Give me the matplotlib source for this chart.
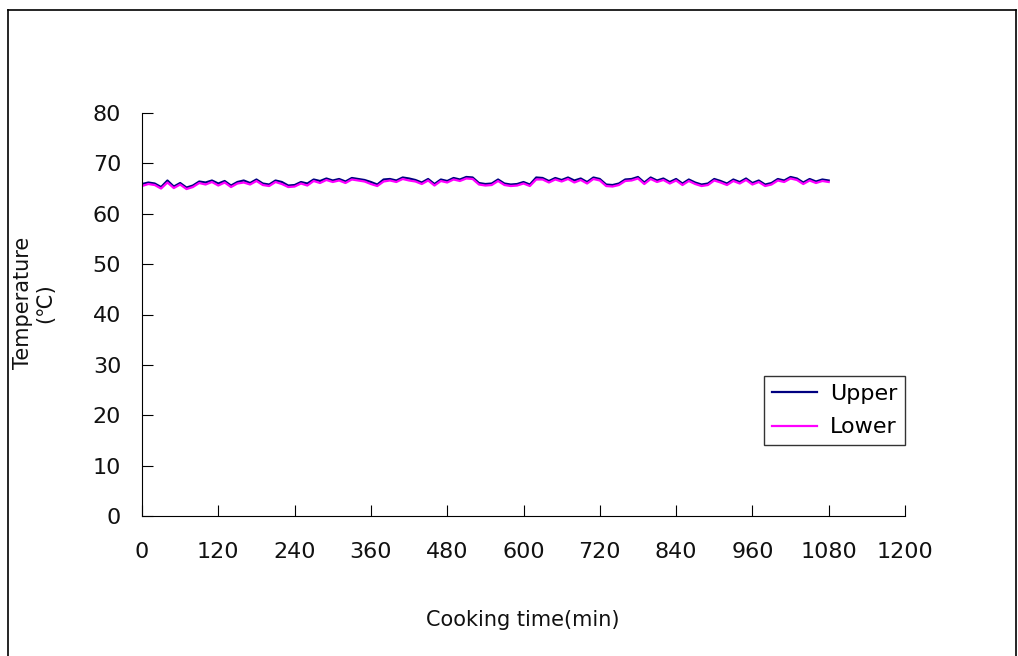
import numpy as np
import matplotlib.pyplot as plt
from matplotlib.lines import Line2D

plt.rcParams['font.family'] = ['DejaVu Sans', 'Noto Sans CJK KR']

# cooking time (min), sampled every 10 min
time = np.arange(0, 1081, 10)

upper = [65.9, 66.2, 66.0, 65.3, 66.6, 65.4, 66.1, 65.2, 65.6, 66.4,
         66.2, 66.6, 66.0, 66.5, 65.6, 66.3, 66.6, 66.1, 66.8, 66.0,
         65.8, 66.6, 66.3, 65.6, 65.7, 66.3, 66.0, 66.8, 66.5, 67.0,
         66.6, 66.9, 66.4, 67.1, 66.9, 66.7, 66.3, 65.8, 66.8, 66.9,
         66.6, 67.2, 67.0, 66.7, 66.2, 66.9, 65.9, 66.8, 66.5, 67.1,
         66.8, 67.3, 67.2, 66.1, 65.9, 66.0, 66.8, 66.0, 65.8, 65.9,
         66.3, 65.8, 67.2, 67.1, 66.5, 67.1, 66.7, 67.2, 66.6, 67.0,
         66.3, 67.2, 66.9, 65.8, 65.7, 66.0, 66.8, 66.9, 67.3, 66.2,
         67.2, 66.6, 67.0, 66.3, 66.9, 66.0, 66.8, 66.2, 65.8, 66.0,
         66.9, 66.5, 66.0, 66.8, 66.3, 67.0, 66.1, 66.6, 65.8, 66.1,
         66.9, 66.6, 67.3, 67.0, 66.2, 66.9, 66.4, 66.8, 66.6]

lower = [65.5, 65.9, 65.7, 65.0, 66.2, 65.1, 65.8, 64.9, 65.3, 66.1,
         65.8, 66.3, 65.6, 66.2, 65.3, 66.0, 66.2, 65.8, 66.5, 65.7,
         65.5, 66.3, 65.9, 65.3, 65.4, 66.0, 65.6, 66.5, 66.1, 66.7,
         66.3, 66.6, 66.1, 66.8, 66.6, 66.4, 65.9, 65.5, 66.4, 66.6,
         66.3, 66.9, 66.6, 66.4, 65.9, 66.6, 65.6, 66.5, 66.2, 66.8,
         66.5, 67.0, 66.9, 65.8, 65.6, 65.7, 66.5, 65.7, 65.5, 65.6,
         66.0, 65.5, 66.8, 66.8, 66.2, 66.8, 66.4, 66.9, 66.2, 66.7,
         66.0, 66.9, 66.6, 65.5, 65.4, 65.7, 66.5, 66.6, 67.0, 65.9,
         66.9, 66.3, 66.7, 66.0, 66.6, 65.7, 66.5, 65.9, 65.5, 65.7,
         66.6, 66.2, 65.7, 66.5, 66.0, 66.7, 65.8, 66.3, 65.5, 65.8,
         66.6, 66.3, 67.0, 66.7, 65.9, 66.6, 66.1, 66.5, 66.3]

fig = plt.figure(figsize=(10.18, 6.56), dpi=100)
ax = fig.add_axes([142/1018, 1-516/656, (905-142)/1018, (516-113)/656])

ax.plot(time, upper, color='#000080', lw=1.6, label='Upper')
ax.plot(time, lower, color='#ff00ff', lw=1.6, label='Lower')

ax.set_xlim(0, 1200)
ax.set_ylim(0, 80)
ax.set_xticks(np.arange(0, 1201, 120))
ax.set_yticks(np.arange(0, 81, 10))
ax.spines['top'].set_visible(False)
ax.spines['right'].set_visible(False)
ax.tick_params(axis='x', direction='in', length=8, pad=19, labelsize=16)
ax.tick_params(axis='y', direction='in', length=8, pad=15, labelsize=16)
for lab in ax.get_xticklabels() + ax.get_yticklabels():
    lab.set_color('#111111')

fig.text(523/1018, 1-620/656, 'Cooking time(min)', ha='center', va='center',
         fontsize=15, color='#111111')
fig.text(34/1018, 1-303/656, 'Temperature\n(\u2103)', ha='center', va='center',
         rotation=90, fontsize=15, color='#111111', linespacing=1.1,
         family=['DejaVu Sans', 'Noto Sans CJK KR'])

leg = ax.legend(loc='lower right', bbox_to_anchor=(1.0, 0.176), fontsize=16,
                frameon=True, fancybox=False, handlelength=2.0, borderpad=0.35,
                labelspacing=0.6, handletextpad=0.6, borderaxespad=0)
leg.get_frame().set_edgecolor('black')
leg.get_frame().set_linewidth(1.0)

# outer frame of the figure
for xs, ys in [([8, 8], [656, 10]), ([8, 1016], [10, 10]), ([1016, 1016], [10, 656])]:
    fig.add_artist(Line2D([x/1018 for x in xs], [1-y/656 for y in ys],
                          color='black', lw=1.2))

fig.savefig('out.png', dpi=100)
